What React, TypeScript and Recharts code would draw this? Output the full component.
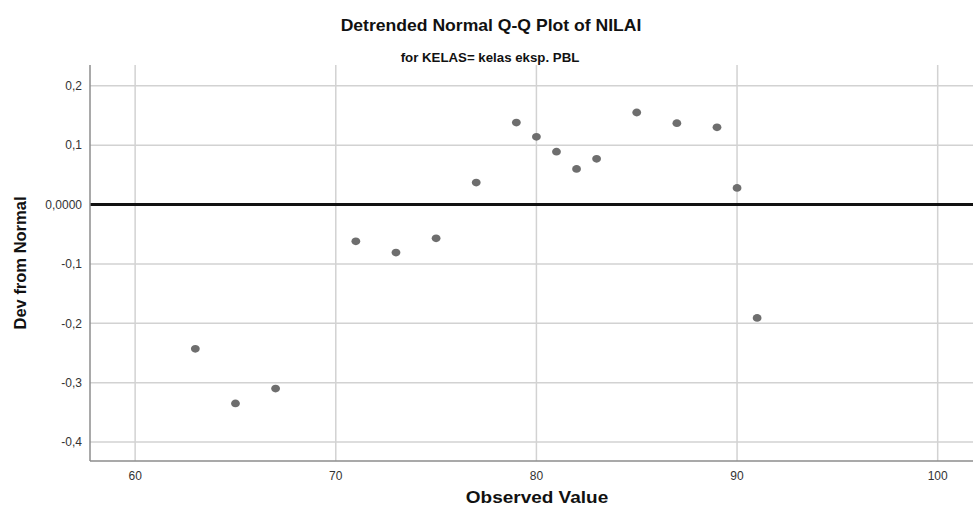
import React from "react";
import {
  CartesianGrid,
  ReferenceLine,
  Scatter,
  ScatterChart,
  XAxis,
  YAxis,
} from "recharts";

const observed = [63, 65, 67, 71, 73, 75, 77, 79, 80, 81, 82, 83, 85, 87, 89, 90, 91];
const devFromNormal = [
  -0.243, -0.335, -0.31, -0.062, -0.081, -0.057, 0.037, 0.138, 0.114, 0.089,
  0.06, 0.077, 0.155, 0.137, 0.13, 0.028, -0.191,
];
const xTicks = [60, 70, 80, 90, 100];
const yTicks = [-0.4, -0.3, -0.2, -0.1, 0, 0.1, 0.2];

const FONT = "'Liberation Sans', Arial, sans-serif";

const points = observed.map((x, i) => ({ x, y: devFromNormal[i] }));

// SPSS prints the zero line value with four decimals
const fmtY = (v: number) =>
  v === 0 ? "0,0000" : v.toFixed(1).replace(".", ",");

const Dot = (props: any) => (
  <ellipse cx={props.cx} cy={props.cy} rx={4.4} ry={3.9} fill="#6e6e6e" />
);

const textStyle = (
  top: number,
  centerX: number,
  size: number,
  stretch: number,
): React.CSSProperties => ({
  position: "absolute",
  left: centerX,
  top,
  transform: `translateX(-50%) scaleX(${stretch})`,
  whiteSpace: "nowrap",
  fontWeight: "bold",
  fontSize: size,
  lineHeight: 1.1,
  color: "#111",
});

export default function App() {
  return (
    <div
      style={{
        position: "relative",
        width: 973,
        height: 511,
        background: "#fff",
        fontFamily: FONT,
        overflow: "hidden",
      }}
    >
      <style>{`body{margin:0}`}</style>
      <ScatterChart
        width={973}
        height={511}
        margin={{ top: 65, right: 0, bottom: 0, left: 0 }}
      >
        <CartesianGrid
          stroke="#d2d2d2"
          strokeWidth={1.5}
          verticalValues={xTicks}
          horizontalValues={yTicks}
        />
        <XAxis
          type="number"
          dataKey="x"
          domain={[57.75, 101.76]}
          ticks={xTicks}
          allowDataOverflow
          height={50}
          tickLine={false}
          axisLine={{ stroke: "#8c8c8c", strokeWidth: 1.5 }}
          tick={{ fill: "#333", fontSize: 12, fontFamily: FONT }}
          tickMargin={4}
        />
        <YAxis
          type="number"
          dataKey="y"
          domain={[-0.432, 0.235]}
          ticks={yTicks}
          allowDataOverflow
          width={90}
          tickLine={false}
          axisLine={{ stroke: "#8c8c8c", strokeWidth: 1.5 }}
          tickFormatter={fmtY}
          tick={{ fill: "#333", fontSize: 12, fontFamily: FONT }}
          tickMargin={2}
        />
        <ReferenceLine y={0} stroke="#111" strokeWidth={3} />
        <Scatter data={points} shape={Dot} isAnimationActive={false} />
      </ScatterChart>
      <div style={textStyle(16, 491, 16.5, 1.065)}>
        Detrended Normal Q-Q Plot of NILAI
      </div>
      <div style={textStyle(51, 490, 13, 1.02)}>for KELAS= kelas eksp. PBL</div>
      <div style={textStyle(488, 537, 16.5, 1.15)}>Observed Value</div>
      <div
        style={{
          position: "absolute",
          left: 19.5,
          top: 263,
          transform: "translate(-50%, -50%) rotate(-90deg)",
          whiteSpace: "nowrap",
          fontWeight: "bold",
          fontSize: 16.5,
          lineHeight: 1.1,
          color: "#111",
        }}
      >
        Dev from Normal
      </div>
    </div>
  );
}
